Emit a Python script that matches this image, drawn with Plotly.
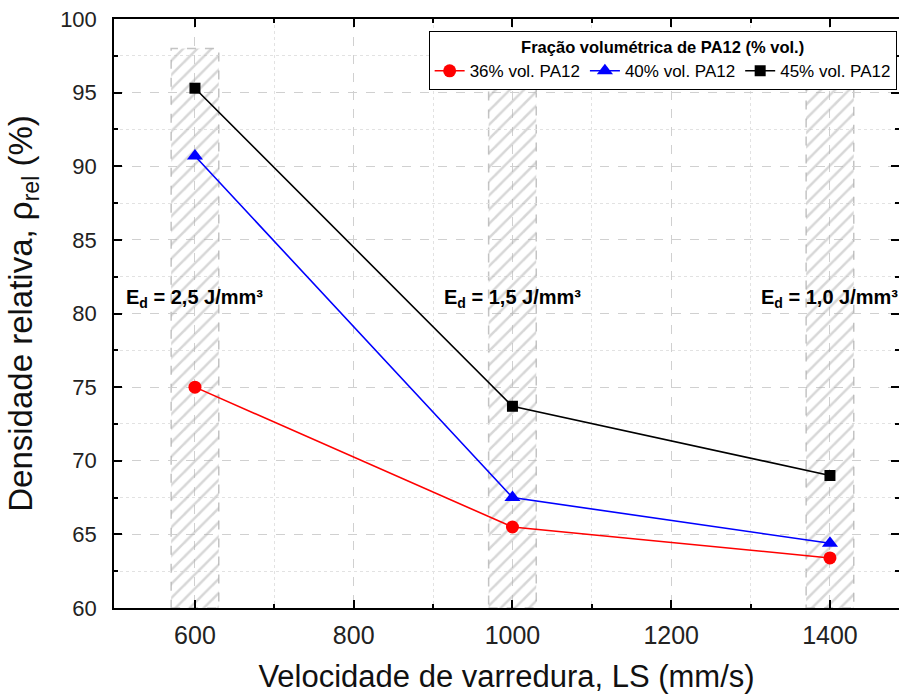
import plotly.graph_objects as go

speeds = [600, 1000, 1400]
rho_36 = [75.0, 65.5, 63.4]
rho_40 = [90.7, 67.5, 64.4]
rho_45 = [95.3, 73.7, 69.0]
names = ["36% vol. PA12", "40% vol. PA12", "45% vol. PA12"]
colors = ["#ff0000", "#0000ff", "#000000"]
symbols = ["circle", "triangle-up", "square"]
band_top = [98.0, 95.7, 96.0]
band_base = 60
band_width = 60
energy_labels = ["E<sub>d</sub> = 2,5 J/mm³", "E<sub>d</sub> = 1,5 J/mm³", "E<sub>d</sub> = 1,0 J/mm³"]
label_y = 81.0

fig = go.Figure()

# hatched bands
fig.add_trace(go.Bar(
    x=speeds, y=[t - band_base for t in band_top], base=band_base, width=band_width,
    marker=dict(color="rgba(255,255,255,0)", line=dict(width=0),
                pattern=dict(shape="/", fgcolor="#b0b0b0", bgcolor="rgba(255,255,255,0)", size=10, solidity=0.25)),
    showlegend=False, hoverinfo="skip"))

for s, t in zip(speeds, band_top):
    fig.add_shape(type="rect", x0=s - band_width / 2, x1=s + band_width / 2, y0=band_base, y1=t,
                  line=dict(color="#c4c4c4", width=1.5, dash="dash"), layer="below")

sizes = [13, 14, 11]
for ys, n, c, sym, sz in zip([rho_36, rho_40, rho_45], names, colors, symbols, sizes):
    fig.add_trace(go.Scatter(x=speeds, y=ys, name=n, mode="lines+markers",
                             line=dict(color=c, width=1.6),
                             marker=dict(symbol=sym, size=sz, color=c)))

for s, lab in zip(speeds, energy_labels):
    fig.add_annotation(x=s, y=label_y, text="<b>" + lab + "</b>", showarrow=False,
                       font=dict(size=20, color="black", family="Liberation Sans, Arial"))

axis_common = dict(showline=True, linecolor="black", linewidth=1.5, mirror="ticks",
                   ticks="inside", ticklen=8, tickwidth=1.5, tickcolor="black",
                   showgrid=True, gridcolor="#d0d0d0", griddash="dash", gridwidth=1,
                   zeroline=False, automargin=False)

fig.update_xaxes(range=[498, 1487], tickvals=[600, 800, 1000, 1200, 1400],
                 ticklabelstandoff=4, tickfont=dict(size=25, color="#222"),
                 minor=dict(tickvals=[700, 900, 1100, 1300], ticks="inside", ticklen=4,
                            tickcolor="black", tickwidth=1.5, showgrid=True,
                            gridcolor="#e2e2e2", griddash="dot"),
                 title=dict(text="Velocidade de varredura, LS (mm/s)", font=dict(size=31, color="#111"), standoff=18),
                 **axis_common)
fig.update_yaxes(range=[60, 100], dtick=5, tick0=60,
                 ticklabelstandoff=11, tickfont=dict(size=22, color="#222"),
                 minor=dict(dtick=2.5, ticks="inside", ticklen=4, tickcolor="black", tickwidth=1.5,
                            showgrid=True, gridcolor="#e2e2e2", griddash="dot"),
                 title=dict(text="Densidade relativa, ρ<sub>rel</sub> (%)", font=dict(size=33, color="#111"), standoff=18),
                 **axis_common)

fig.update_layout(
    width=899, height=697,
    margin=dict(l=114, r=0, t=19, b=89),
    plot_bgcolor="white", paper_bgcolor="white",
    font=dict(family="Liberation Sans, Arial", color="black"),
    barmode="overlay",
    legend=dict(orientation="h", x=0.997, xanchor="right", y=0.98, yanchor="top",
                bgcolor="white", bordercolor="black", borderwidth=1,
                font=dict(size=17), itemwidth=30, tracegroupgap=0,
                title=dict(text="<b>Fração volumétrica de PA12 (% vol.)</b>", side="top center",
                           font=dict(size=16.5))),
)

fig.write_html("out.html", config={"displayModeBar": False},
               post_script="document.body.style.margin='0';document.body.style.overflow='hidden';")
